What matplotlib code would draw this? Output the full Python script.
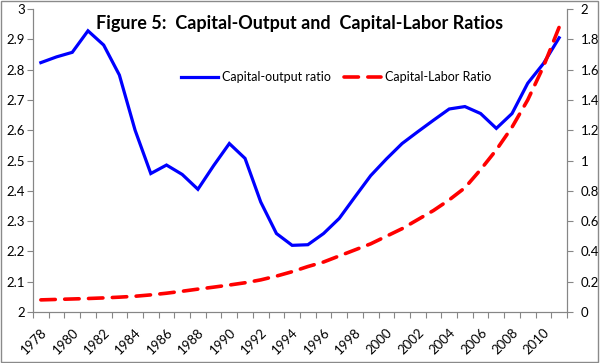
import numpy as np
import matplotlib
matplotlib.use("Agg")
import matplotlib.pyplot as plt
from matplotlib.patches import Rectangle

plt.rcParams['font.family'] = ['Lato', 'DejaVu Sans']

# data
years = list(range(1978, 2012))
capital_output = [2.823, 2.842, 2.857, 2.928, 2.881, 2.782, 2.60, 2.457, 2.485, 2.454,
                  2.405, 2.483, 2.556, 2.507, 2.363, 2.259, 2.22, 2.222, 2.259, 2.309,
                  2.38, 2.45, 2.505, 2.556, 2.595, 2.633, 2.67, 2.678, 2.655, 2.606,
                  2.655, 2.755, 2.82, 2.905]
capital_labor = [0.080, 0.083, 0.086, 0.089, 0.093, 0.098, 0.104, 0.113, 0.124, 0.137,
                 0.151, 0.164, 0.178, 0.193, 0.212, 0.237, 0.266, 0.30, 0.33, 0.37,
                 0.41, 0.45, 0.50, 0.55, 0.61, 0.67, 0.74, 0.82, 0.94, 1.07,
                 1.22, 1.40, 1.62, 1.88]

x = np.arange(len(years))
spine_col = '#868686'

fig = plt.figure(figsize=(6, 3.63), dpi=100)
ax = fig.add_axes([33/600, 1-312/363, (567-33)/600, (312-9)/363])
ax2 = ax.twinx()

l1, = ax.plot(x, capital_output, color='#0000ff', lw=2.3, label='Capital-output ratio',
              solid_joinstyle='miter')
l2, = ax2.plot(x, capital_labor, color='#ff0000', lw=2.6, dashes=(4, 2.6),
               dash_capstyle='round', label='Capital-Labor Ratio')

ax.set_xlim(-0.5, len(years) - 0.5)
ax.set_ylim(2, 3)
ax2.set_ylim(0, 2)
ax.set_yticks(np.arange(2, 3.01, 0.1))
ax.set_yticklabels([f'{v:g}' for v in np.round(np.arange(2, 3.01, 0.1), 1)])
ax2.set_yticks(np.arange(0, 2.01, 0.2))
ax2.set_yticklabels([f'{v:g}' for v in np.round(np.arange(0, 2.01, 0.2), 1)])

# ticks at category boundaries, labels every other year
ax.set_xticks(np.arange(-0.5, len(years)), minor=False)
ax.set_xticklabels([])
ax.set_xticks(x[::2], minor=True)
ax.set_xticklabels([str(y) for y in years[::2]], minor=True, rotation=45,
                   ha='right', va='top', rotation_mode='anchor')
ax.tick_params(axis='x', which='minor', length=0, pad=10, labelsize=9.5)
ax.tick_params(axis='x', which='major', length=4, color=spine_col)
ax.tick_params(axis='y', length=4, color=spine_col, labelsize=9.5, pad=2)
ax2.tick_params(axis='y', length=4, color=spine_col, labelsize=9.5, pad=6)

for a in (ax, ax2):
    a.spines['top'].set_visible(False)
    for s in ('left', 'right', 'bottom'):
        a.spines[s].set_color(spine_col)

fig.text(0.5, 1-23/363, 'Figure 5:  Capital-Output and  Capital-Labor Ratios',
         ha='center', va='center', fontsize=13, fontweight='bold')

fig.legend(handles=[l1, l2], loc='center', bbox_to_anchor=(0.56, 1-77/363), ncol=2,
           frameon=False, fontsize=9, handlelength=3, handletextpad=0.3,
           columnspacing=1.0)

fig.patches.append(Rectangle((0.002, 0.003), 0.995, 0.993, transform=fig.transFigure,
                             fill=False, edgecolor='#8a8a8a', lw=1))

fig.savefig('out.png', dpi=100)
